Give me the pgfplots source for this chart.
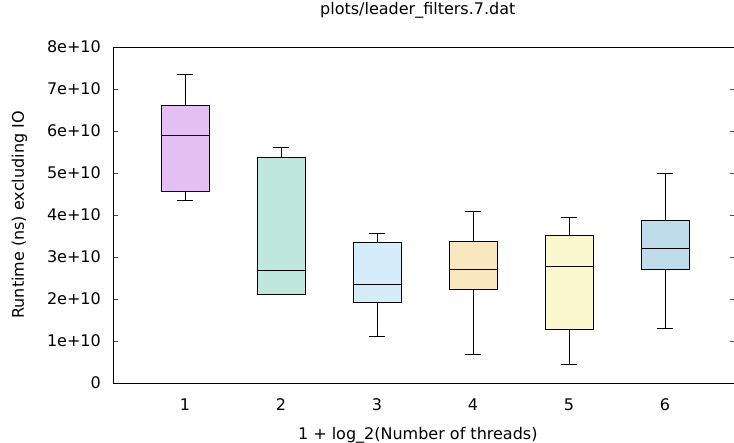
\documentclass[border=0pt]{standalone}
\usepackage{fontspec}
\setmainfont{DejaVu Sans}
\usepackage{pgfplots}
\pgfplotsset{compat=1.18}
\usepgfplotslibrary{statistics}
\usetikzlibrary{calc}
\definecolor{c1}{RGB}{228,191,244}
\definecolor{c2}{RGB}{191,231,220}
\definecolor{c3}{RGB}{213,236,250}
\definecolor{c4}{RGB}{250,231,191}
\definecolor{c5}{RGB}{251,248,208}
\definecolor{c6}{RGB}{191,220,236}
\begin{document}
\fontsize{16bp}{19bp}\selectfont
\begin{tikzpicture}
\begin{axis}[
  scale only axis, width=622bp, height=336bp,
  xmin=0.25, xmax=6.73, ymin=0, ymax=8,
  xtick={1,2,3,4,5,6},
  ytick={0,1,2,3,4,5,6,7,8},
  yticklabels={0,1e+10,2e+10,3e+10,4e+10,5e+10,6e+10,7e+10,8e+10},
  xticklabels={1,2,3,4,5,6},
  tick align=inside, major tick length=5bp,
  x tick style={draw=none},
  y tick style={line width=0.6bp, black!70},
  axis line style={line width=0.8bp},
  xticklabel style={inner sep=0pt, anchor=base, yshift=-27bp},
  yticklabel style={inner sep=0pt, anchor=east, xshift=-12bp},
  title={plots/leader\_filters.7.dat},
  title style={at={(axis description cs:0.49,1)}, anchor=base, inner sep=0pt, yshift=27bp},
  xlabel={1 + log\_2(Number of threads)},
  xlabel style={at={(axis description cs:0.49,0)}, anchor=base, inner sep=0pt, yshift=-56bp},
  ylabel={Runtime (ns) excluding IO},
  ylabel style={at={(axis description cs:-0.1431,0.5)}, anchor=base, inner sep=0pt},
  boxplot/draw direction=y,
  every axis plot/.append style={line width=0.8bp, draw=black},
  clip=false,
]
\coordinate (ll) at (rel axis cs:0,0);
\coordinate (ur) at (rel axis cs:1,1);
\addplot[fill=c1, boxplot prepared={draw position=1, lower whisker=4.35, lower quartile=4.57, median=5.90, upper quartile=6.60, upper whisker=7.35, box extend=0.5, whisker extend=0.16}] coordinates {};
\addplot[fill=c2, boxplot prepared={draw position=2, lower whisker=2.10, lower quartile=2.10, median=2.67, upper quartile=5.38, upper whisker=5.60, box extend=0.5, whisker extend=0.16}] coordinates {};
\addplot[fill=c3, boxplot prepared={draw position=3, lower whisker=1.12, lower quartile=1.91, median=2.35, upper quartile=3.35, upper whisker=3.57, box extend=0.5, whisker extend=0.16}] coordinates {};
\addplot[fill=c4, boxplot prepared={draw position=4, lower whisker=0.67, lower quartile=2.24, median=2.71, upper quartile=3.36, upper whisker=4.08, box extend=0.5, whisker extend=0.16}] coordinates {};
\addplot[fill=c5, boxplot prepared={draw position=5, lower whisker=0.44, lower quartile=1.28, median=2.78, upper quartile=3.52, upper whisker=3.95, box extend=0.5, whisker extend=0.16}] coordinates {};
\addplot[fill=c6, boxplot prepared={draw position=6, lower whisker=1.29, lower quartile=2.70, median=3.21, upper quartile=3.86, upper whisker=4.98, box extend=0.5, whisker extend=0.16}] coordinates {};
\end{axis}
\pgfresetboundingbox
\path[use as bounding box] ($(ll)+(-113bp,-60bp)$) rectangle ($(ur)+(-1bp,47bp)$);
\end{tikzpicture}
\end{document}
